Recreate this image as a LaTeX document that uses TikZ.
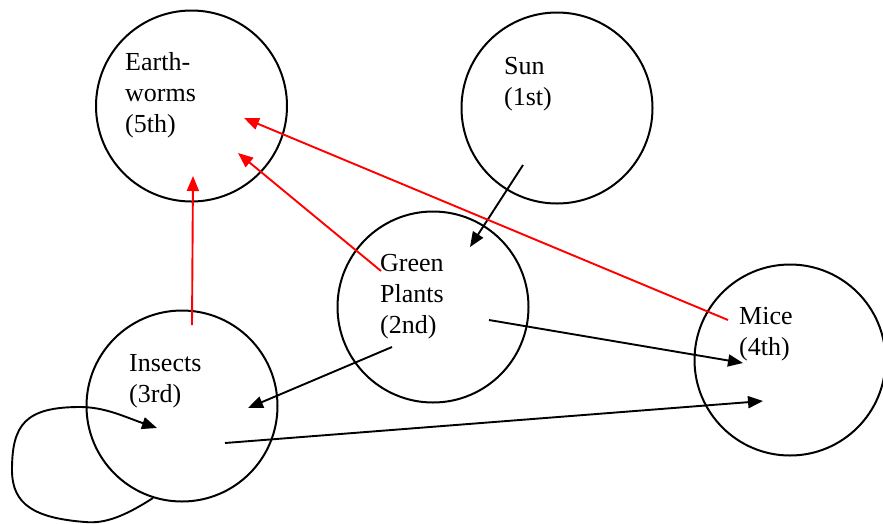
\documentclass[tikz,border=0pt]{standalone}
\usepackage{fontspec}
\setmainfont{Liberation Serif}
\usetikzlibrary{arrows.meta}
\begin{document}
\begin{tikzpicture}[x=1pt,y=-1pt,
  circ/.style={draw=black,circle,line width=2pt,minimum size=191pt,inner sep=0pt},
  lbl/.style={anchor=base west,align=left,inner sep=0pt,font=\fontsize{26pt}{31pt}\selectfont},
  blk/.style={draw=black,line width=1.9pt,-{Triangle[length=15pt,width=12pt]}},
  rd/.style={draw=red,line width=1.9pt,-{Triangle[length=15pt,width=12pt]}}]
\useasboundingbox (0,0) rectangle (883,523);
\node[circ] (ew) at (191.5,106) {};
\node[circ] (sun) at (557,108) {};
\node[circ] (gp) at (433,307) {};
\node[circ] (ins) at (182,406) {};
\node[circ] (mice) at (790,360) {};
\node[lbl] (tew) at (125,132) {Earth-\\worms\\(5th)};
\node[lbl] (tsun) at (504,105) {Sun\\(1st)};
\node[lbl] (tgp) at (380,333) {Green\\Plants\\(2nd)};
\node[lbl] (tins) at (129,402) {Insects\\(3rd)};
\node[lbl] (tmice) at (739,355) {Mice\\(4th)};
% connector ends
\coordinate (s1) at (523,165);
\coordinate (g1) at (470,247);
\coordinate (g2) at (392,347);
\coordinate (i1) at (248,408);
\coordinate (g3) at (489,320);
\coordinate (m1) at (743,363);
\coordinate (i2) at (225,443);
\coordinate (m2) at (763,401);
\coordinate (i3) at (153,498);
\coordinate (i4) at (157,428);
\coordinate (i5) at (192,325);
\coordinate (e1) at (193,176);
\coordinate (g4) at (381,271);
\coordinate (e2) at (238,153);
\coordinate (m3) at (728,320);
\coordinate (e3) at (244,118);
\draw[blk] (s1) -- (g1);
\draw[blk] (g2) -- (i1);
\draw[blk] (g3) -- (m1);
\draw[blk] (i2) -- (m2);
\draw[blk] (i3) .. controls (125,516) and (105,524) .. (85,522)
  .. controls (35,518) and (12,505) .. (12,470)
  .. controls (12,425) and (25,407) .. (80,407)
  .. controls (105,407) and (125,417) .. (i4);
\draw[rd] (i5) -- (e1);
\draw[rd] (g4) -- (e2);
\draw[rd] (m3) -- (e3);
\end{tikzpicture}
\end{document}
